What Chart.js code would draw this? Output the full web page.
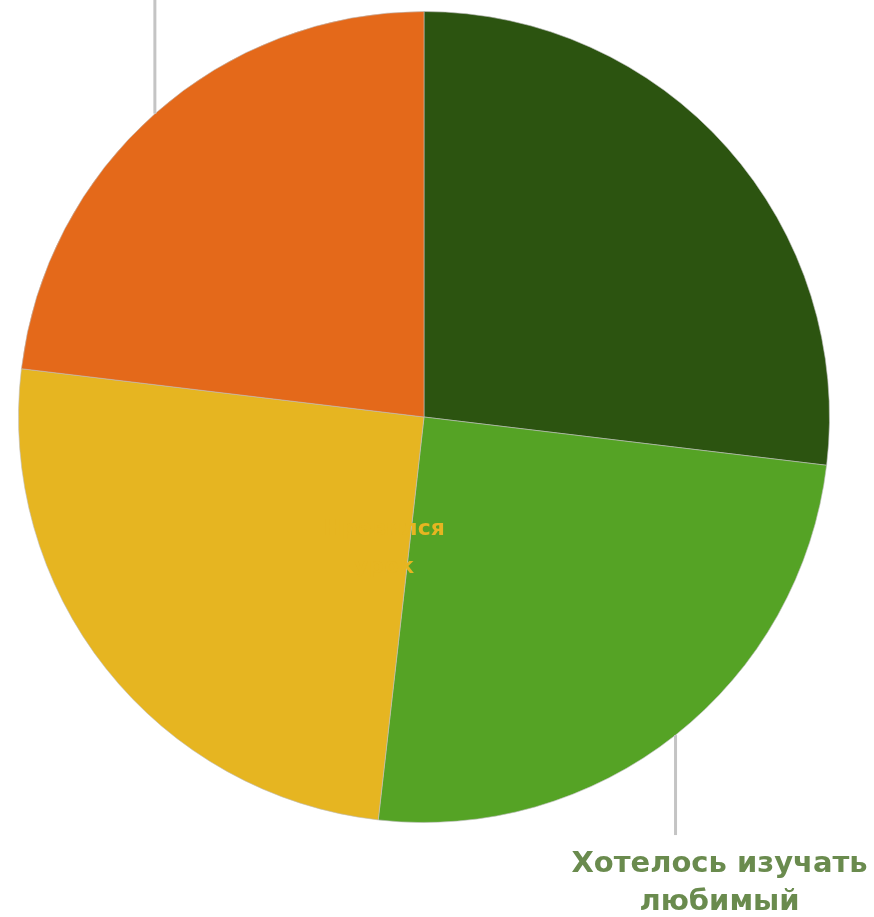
<!DOCTYPE html>
<html>
<head>
<meta charset="utf-8">
<script src="https://cdn.jsdelivr.net/npm/chart.js@4.4.0/dist/chart.umd.min.js"></script>
<style>
  html, body { margin: 0; padding: 0; background: #ffffff; }
  #wrap { width: 874px; height: 917px; }
</style>
</head>
<body>
<div id="wrap"><canvas id="pie"></canvas></div>
<script>
var labels = [
    ['Было интересно'],
    ['Хотелось изучать', 'любимый', 'предмет'],
    ['Нравился', 'урок'],
    ['Советовали', 'родители']
];
var values = [26.9, 24.9, 25.1, 23.1];
var colors = ['#2c5410', '#55a325', '#e6b521', '#e4691a'];
var labelColors = ['#2c5410', '#6a8b4e', '#e6b521', '#e4691a'];

// labels with leader lines (slice index -> line length, direction)
var leaders = [
    { index: 1, length: 100, dir: 1 },
    { index: 3, length: 200, dir: -1 }
];

var sliceLabels = {
    id: 'sliceLabels',
    afterDatasetsDraw: function(chart) {
        var ctx = chart.ctx;
        var meta = chart.getDatasetMeta(0);
        ctx.save();

        leaders.forEach(function(l) {
            var arc = meta.data[l.index];
            var p = arc.getProps(['x', 'y', 'startAngle', 'endAngle', 'outerRadius'], true);
            var mid = (p.startAngle + p.endAngle) / 2;
            var x0 = p.x + Math.cos(mid) * p.outerRadius;
            var y0 = p.y + Math.sin(mid) * p.outerRadius;
            var y1 = y0 + l.dir * l.length;
            ctx.strokeStyle = '#c4c4c4';
            ctx.lineWidth = 3;
            ctx.beginPath();
            ctx.moveTo(x0, y0);
            ctx.lineTo(x0, y1);
            ctx.stroke();

            ctx.fillStyle = labelColors[l.index];
            ctx.font = 'bold 29px "DejaVu Sans"';
            ctx.textAlign = 'center';
            ctx.textBaseline = 'alphabetic';
            var lines = labels[l.index];
            lines.forEach(function(t, i) {
                var ty = l.dir > 0 ? y1 + 37 + i * 38 : y1 - 14 - (lines.length - 1 - i) * 38;
                ctx.fillText(t, x0 + 44, ty);
            });
        });

        // label of the yellow slice, drawn near the centre in slice colour
        var c = meta.data[2].getProps(['x', 'y'], true);
        ctx.fillStyle = labelColors[2];
        ctx.font = 'bold 22px "DejaVu Sans"';
        ctx.textAlign = 'center';
        labels[2].forEach(function(t, i) {
            ctx.fillText(t, c.x - 40, c.y + 118 + i * 38);
        });
        ctx.restore();
    }
};

new Chart(document.getElementById('pie').getContext('2d'), {
    type: 'pie',
    data: {
        labels: labels,
        datasets: [{
            data: values,
            backgroundColor: colors,
            borderColor: 'rgba(190, 190, 190, 0.6)',
            borderWidth: 1
        }]
    },
    options: {
        responsive: true,
        maintainAspectRatio: false,
        animation: false,
        layout: {
            padding: { left: 17, right: 43, top: 11, bottom: 94 }
        },
        plugins: {
            legend: { display: false },
            tooltip: { enabled: false }
        }
    },
    plugins: [sliceLabels]
});
</script>
</body>
</html>
